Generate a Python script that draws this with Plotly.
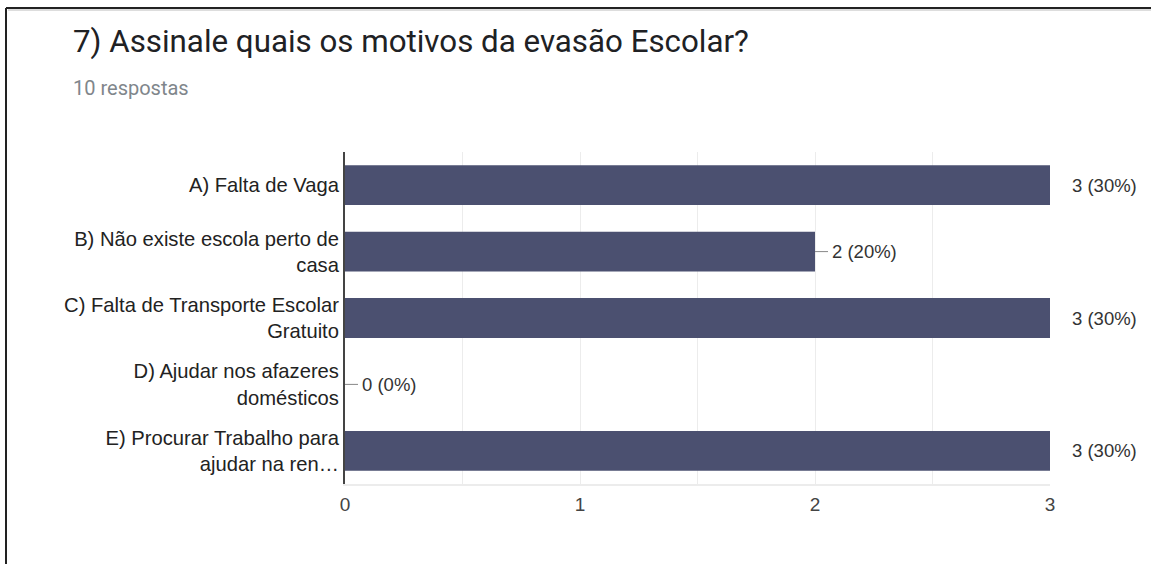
import plotly.graph_objects as go

categories = [
    "A) Falta de Vaga",
    "B) Não existe escola perto de<br>casa",
    "C) Falta de Transporte Escolar<br>Gratuito",
    "D) Ajudar nos afazeres<br>domésticos",
    "E) Procurar Trabalho para<br>ajudar na ren…",
]
counts = [3, 2, 3, 0, 3]
total_responses = 10
x_ticks = [0, 1, 2, 3]

title_text = "7) Assinale quais os motivos da evasão Escolar?"
subtitle_text = f"{total_responses} respostas"

BAR = "#4b5070"
W, H = 1151, 564
L, R, T, B = 345, 101, 152, 80
pw, ph = W - L - R, H - T - B


def px_x(p):
    return (p - L) / pw


def px_y(p):
    return (H - B - p) / ph


xmax = max(x_ticks)

fig = go.Figure(go.Bar(
    x=counts, y=categories, orientation="h",
    marker=dict(color=BAR, line=dict(width=0)),
    hoverinfo="skip",
))

annotations = []
shapes = []
for cat, v in zip(categories, counts):
    pct = round(100 * v / total_responses)
    at_max = v >= xmax
    lead = 5 if at_max else 13
    gap = 20 if at_max else 15
    shapes.append(dict(
        type="line", xref="x", yref="y", xsizemode="pixel", xanchor=v,
        x0=0, x1=lead, y0=cat, y1=cat,
        line=dict(color="#888888", width=1),
    ))
    annotations.append(dict(
        x=v, y=cat, xref="x", yref="y", text=f"{v} ({pct}%)",
        showarrow=False, xanchor="left", yanchor="middle", xshift=gap,
        font=dict(family="Liberation Sans, Arial", size=18.5, color="#333333"),
    ))

annotations.append(dict(
    xref="paper", yref="paper", x=px_x(71), y=px_y(41), text=title_text,
    showarrow=False, xanchor="left", yanchor="middle",
    font=dict(family="Roboto", size=31.3, color="#202124"),
))
annotations.append(dict(
    xref="paper", yref="paper", x=px_x(71), y=px_y(88), text=subtitle_text,
    showarrow=False, xanchor="left", yanchor="middle",
    font=dict(family="Roboto", size=20, color="#80868b"),
))

# page frame edges
shapes.append(dict(type="line", xref="paper", yref="paper",
                   x0=px_x(6), x1=px_x(W + 5), y0=px_y(8), y1=px_y(8),
                   line=dict(color="#222222", width=2)))
shapes.append(dict(type="line", xref="paper", yref="paper",
                   x0=px_x(6), x1=px_x(6), y0=px_y(8), y1=px_y(H + 5),
                   line=dict(color="#222222", width=2)))
shapes.append(dict(type="line", xref="paper", yref="paper",
                   x0=px_x(8), x1=px_x(W + 5), y0=px_y(10), y1=px_y(10),
                   line=dict(color="#bbbbbb", width=1)))

fig.update_layout(
    width=W, height=H,
    margin=dict(l=L, r=R, t=T, b=B, pad=0),
    paper_bgcolor="white", plot_bgcolor="white",
    showlegend=False, bargap=0.4,
    annotations=annotations, shapes=shapes,
    xaxis=dict(
        range=[0, xmax], tickvals=x_ticks, ticktext=[str(t) for t in x_ticks],
        showgrid=True, gridcolor="#ececec", gridwidth=1,
        minor=dict(dtick=0.5, showgrid=True, gridcolor="#ececec", gridwidth=1),
        zeroline=False, showline=True, linecolor="#ececec", linewidth=2,
        mirror=False, ticks="outside", ticklen=2, tickcolor="rgba(0,0,0,0)",
        tickfont=dict(family="Liberation Sans, Arial", size=19, color="#444444"),
        fixedrange=True,
    ),
    yaxis=dict(
        autorange="reversed", showgrid=False, zeroline=False,
        showline=True, linecolor="#444444", linewidth=2,
        ticks="",
        tickfont=dict(family="Liberation Sans, Arial", size=20.2, color="#222222"),
        fixedrange=True,
    ),
)

fig.write_html("out.html", config={"displayModeBar": False},
               post_script="document.body.style.margin='0';")
